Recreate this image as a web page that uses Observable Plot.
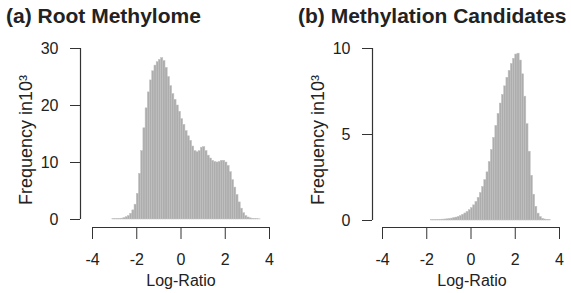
<!DOCTYPE html>
<html>
<head>
<meta charset="utf-8">
<script src="https://cdn.jsdelivr.net/npm/d3@7"></script>
<script src="https://cdn.jsdelivr.net/npm/@observablehq/plot@0.6"></script>
<style>
  html, body { margin: 0; padding: 0; background: #fff; }
  #wrap { position: relative; width: 571px; height: 293px; overflow: hidden; font-family: "Liberation Sans", Arial, sans-serif; color: #222; }
  .title { position: absolute; top: 4px; font-weight: bold; font-size: 21px; white-space: nowrap; color: #222; }
  .panel { position: absolute; top: 0; }
</style>
</head>
<body>
<div id="wrap"></div>
<script>
// ---- data (frequencies in thousands, histogram bins of width 0.1) ----
const titles = ["(a) Root Methylome", "(b) Methylation Candidates"];
const xLabel = "Log-Ratio";
const yLabel = "Frequency in10³";
const binWidth = 0.1;

const rootStart = -3.1;
const rootFreq = [
  0.05, 0.05, 0.08, 0.10, 0.15, 0.25, 0.40, 0.60, 1.00, 1.60,
  2.60, 4.50, 8.00, 12.0, 16.0, 19.5, 22.3, 24.4, 26.0, 27.0,
  27.6, 28.0, 28.3, 27.8, 26.6, 25.0, 23.4, 22.0, 21.0, 20.0,
  18.9, 17.6, 16.6, 15.5, 14.6, 13.8, 12.8, 12.0, 11.8, 12.0,
  12.6, 12.7, 12.0, 11.2, 10.7, 10.3, 10.1, 10.0, 10.1, 10.3,
  10.3, 10.0, 9.40, 8.30, 6.90, 5.60, 4.30, 3.00, 1.90, 1.10,
  0.60, 0.35, 0.20, 0.12, 0.08, 0.05, 0.03
];

const candStart = -1.8;
const candFreq = [
  0.02, 0.02, 0.03, 0.03, 0.04, 0.05, 0.06, 0.07, 0.09, 0.11,
  0.14, 0.17, 0.21, 0.26, 0.33, 0.41, 0.50, 0.60, 0.72, 0.88,
  1.08, 1.32, 1.60, 1.95, 2.35, 2.80, 3.40, 4.10, 4.80, 5.50,
  6.20, 6.80, 7.30, 7.80, 8.30, 8.70, 9.10, 9.40, 9.65, 9.70,
  9.30, 8.50, 7.20, 5.60, 4.00, 2.60, 1.50, 0.80, 0.40, 0.20,
  0.10, 0.06, 0.04, 0.03
];

const xTicks = [-4, -2, 0, 2, 4];
const rootYTicks = [0, 10, 20, 30];
const candYTicks = [0, 5, 10];

// ---- build ----
function bins(start, freq) {
  return freq.map((f, i) => ({
    x1: +(start + i * binWidth).toFixed(2),
    x2: +(start + (i + 1) * binWidth).toFixed(2),
    y: f
  }));
}

function panel(cfg) {
  const data = bins(cfg.start, cfg.freq);
  const yMin = d3.min(cfg.yTicks), yMax = d3.max(cfg.yTicks);
  const xMin = d3.min(xTicks), xMax = d3.max(xTicks);
  const xLine = [{ x1: xMin, x2: xMax, y: yMin }];
  const yLine = [{ y1: yMin, y2: yMax, x: xMin }];
  return Plot.plot({
    width: cfg.width,
    height: 293,
    marginLeft: cfg.ml,
    marginRight: cfg.mr,
    marginTop: 48,
    marginBottom: 66,
    style: { fontFamily: "Liberation Sans, Arial, sans-serif", fontSize: "16px", color: "#222", background: "white", overflow: "visible" },
    x: { domain: [xMin, xMax], range: cfg.xRange },
    y: { domain: [yMin, yMax], range: cfg.yRange },
    marks: [
      Plot.rectY(data, { x1: "x1", x2: "x2", y: "y", fill: "#adadad", stroke: "#c2c2c2", strokeWidth: 0.5 }),
      Plot.axisX(xTicks, {
        anchor: "bottom", tickSize: 12, tickPadding: 14, stroke: "#333", fill: "#222",
        label: null, fontSize: 16,
        tickFormat: d => String(d)
      }),
      Plot.axisY(cfg.yTicks, {
        anchor: "left", tickSize: 10, tickPadding: 12, stroke: "#333", fill: "#222",
        label: null, fontSize: 16,
        tickFormat: d => String(d)
      }),
      Plot.ruleY(xLine, { x1: "x1", x2: "x2", y: "y", dy: cfg.xAxisGap, stroke: "#333", strokeWidth: 1.2 }),
      Plot.ruleX(yLine, { y1: "y1", y2: "y2", x: "x", dx: -cfg.yAxisGap, stroke: "#333", strokeWidth: 1.2 }),
      Plot.text([xLabel], { text: d => d, frameAnchor: "bottom", lineAnchor: "bottom", dy: 58, fontSize: 16, fill: "#222" }),
      Plot.text([yLabel], { text: d => d, frameAnchor: "left", textAnchor: "middle", lineAnchor: "bottom", rotate: -90, dx: -cfg.yLabelGap, dy: 2, fontSize: 18, fill: "#222" })
    ]
  });
}

const wrap = document.getElementById("wrap");

const pa = panel({
  start: rootStart, freq: rootFreq, yTicks: rootYTicks,
  width: 285, ml: 80, mr: 4, xRange: [92, 269], yRange: [219, 48],
  xAxisGap: 8, yAxisGap: 12, yLabelGap: 49
});
pa.classList.add("panel");
pa.style.left = "0px";
wrap.appendChild(pa);

const pb = panel({
  start: candStart, freq: candFreq, yTicks: candYTicks,
  width: 286, ml: 87, mr: 0, xRange: [97, 274], yRange: [220, 48],
  xAxisGap: 7, yAxisGap: 10, yLabelGap: 49
});
pb.classList.add("panel");
pb.style.left = "285px";
wrap.appendChild(pb);

const ta = document.createElement("div");
ta.className = "title"; ta.style.left = "6px"; ta.textContent = titles[0];
wrap.appendChild(ta);
const tb = document.createElement("div");
tb.className = "title"; tb.style.left = "298px"; tb.textContent = titles[1];
wrap.appendChild(tb);
</script>
</body>
</html>
